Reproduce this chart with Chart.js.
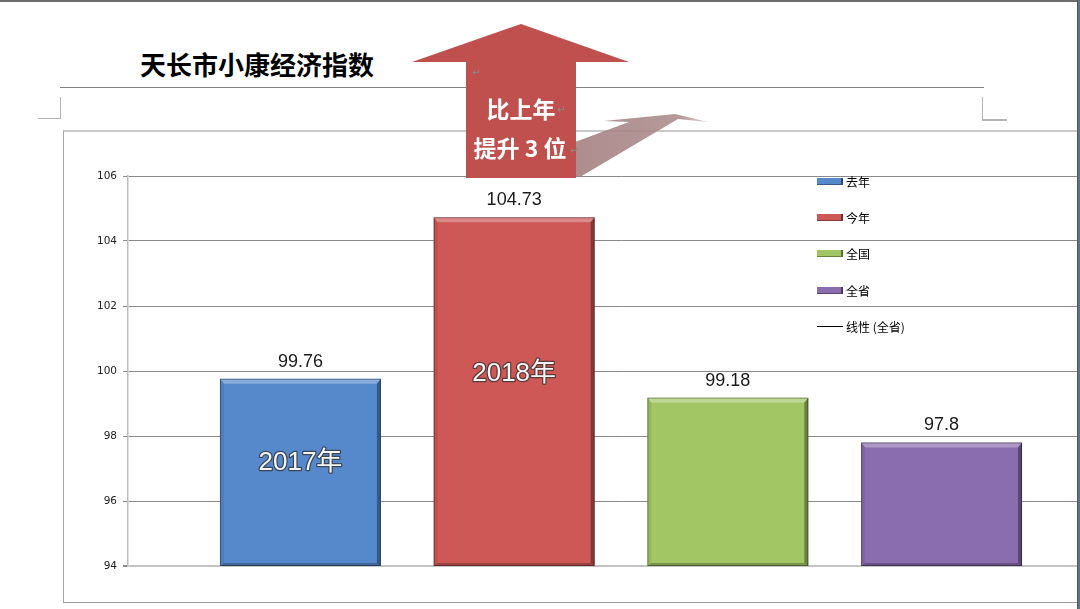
<!DOCTYPE html>
<html>
<head>
<meta charset="utf-8">
<script src="https://cdn.jsdelivr.net/npm/chart.js@4.4.1/dist/chart.umd.min.js"></script>
<style>
    html, body { margin: 0; padding: 0; }
    body { width: 1080px; height: 609px; position: relative; overflow: hidden; background: #fff; font-family: "Noto Sans CJK SC", "Liberation Sans", sans-serif; }
    .topline { position: absolute; left: 0; top: 0; width: 1080px; height: 2px; background: #6d6d6d; }
    .rightline { position: absolute; left: 1077px; top: 0; width: 1px; height: 609px; background: #555; }
    .rightstrip { position: absolute; left: 1078px; top: 0; width: 2px; height: 609px; background: #5b7393; }
    .title { position: absolute; left: 140px; top: 46px; font-size: 26px; font-weight: bold; line-height: 36px; color: #000; letter-spacing: 0px; }
    .rule { position: absolute; left: 60px; top: 87px; width: 924px; height: 1px; background: #808080; }
    .corner { position: absolute; border-color: #b4b4b4; border-style: solid; }
    .box { position: absolute; left: 63px; top: 130px; width: 1014px; height: 473px; box-sizing: border-box; border-left: 1px solid #a6a6a6; border-top: 2px solid #c8c8c8; border-bottom: 1px solid #9a9a9a; overflow: hidden; }
    .chartWrap { position: absolute; left: 0; top: 0; width: 1050px; height: 470px; }
    .legend { position: absolute; left: 817px; top: 172px; font-size: 12px; color: #000; }
    .legend-item { position: absolute; left: 0; height: 18px; white-space: nowrap; display: flex; align-items: center; }
    .legend-swatch { width: 26px; height: 7px; margin-right: 3px; box-sizing: border-box; border-right: 2px solid rgba(0,0,0,0.45); border-bottom: 1px solid rgba(0,0,0,0.35); }
    .legend-line { width: 26px; height: 1px; background: #000; margin-right: 3px; }
    svg.deco { position: absolute; left: 0; top: 0; }
</style>
</head>
<body>
<div class="topline"></div>
<div class="rightline"></div>
<div class="rightstrip"></div>
<div class="title">天长市小康经济指数</div>
<div class="rule"></div>
<div class="corner" style="left:38px; top:97px; width:22px; height:21px; border-width:0 1px 1px 0;"></div>
<div class="corner" style="left:982px; top:97px; width:24px; height:22px; border-width:0 0 2px 1px;"></div>

<div class="box">
    <div class="chartWrap"><canvas id="mainChart"></canvas></div>
</div>

<div class="legend" id="legend"></div>

<svg class="deco" width="1080" height="609">
    <defs>
        <linearGradient id="shadowGrad" x1="0" y1="0" x2="1" y2="0">
            <stop offset="0" stop-color="#a58080" stop-opacity="0.9"/>
            <stop offset="0.8" stop-color="#a98787" stop-opacity="0.85"/>
            <stop offset="1" stop-color="#b59c9c" stop-opacity="0.5"/>
        </linearGradient>
    </defs>
    <polygon points="575,142 629,122 604,121 675,114 708,122 678,119 580,177 575,177" fill="url(#shadowGrad)"/>
    <polygon points="521,24 629,62 576,62 576,178 466,178 466,62 412,62" fill="#c0504d"/>
    <text x="521" y="118" text-anchor="middle" fill="#fff" font-size="23" font-weight="bold" font-family="Noto Sans CJK SC">比上年</text>
    <text x="520" y="157" text-anchor="middle" fill="#fff" font-size="23" font-weight="bold" font-family="Noto Sans CJK SC">提升 3 位</text>
    <text x="472" y="76" fill="#8a8a8a" font-size="10" font-family="DejaVu Sans">↵</text>
    <text x="557" y="113" fill="#8a8a8a" font-size="10" font-family="DejaVu Sans">↵</text>
    <text x="570" y="154" fill="#8a8a8a" font-size="10" font-family="DejaVu Sans">↵</text>
</svg>

<script>
"use strict";

// 数据
const categories = ["小康经济指数"];
const seriesNames = ["去年", "今年", "全国", "全省"];
const seriesValues = [99.76, 104.73, 99.18, 97.8];
const innerLabels = ["2017年", "2018年", "", ""];
const trendLabel = "线性 (全省)";
const yMin = 94;
const yMax = 106;
const yStep = 2;

const seriesColors = ["#5589cc", "#cd5856", "#a3c664", "#8a6dae"];

const ctxMainChart = document.getElementById("mainChart");
const legendArea = document.getElementById("legend");

// 3D 斜面效果 + 数值标签
const barDecor = {
    id: "barDecor",
    afterDatasetsDraw(chart) {
        const ctx = chart.ctx;
        const area = chart.chartArea;
        chart.data.datasets.forEach((ds, i) => {
            const meta = chart.getDatasetMeta(i);
            meta.data.forEach((bar, j) => {
                const l = bar.x - bar.width / 2;
                const r = bar.x + bar.width / 2;
                const t = bar.y;
                const b = Math.min(bar.base, area.bottom);
                const e = 4;

                ctx.save();
                // top highlight
                ctx.fillStyle = "rgba(255,255,255,0.3)";
                ctx.beginPath();
                ctx.moveTo(l, t); ctx.lineTo(r, t); ctx.lineTo(r - e, t + e + 1); ctx.lineTo(l + e, t + e + 1); ctx.closePath();
                ctx.fill();
                // left
                ctx.fillStyle = "rgba(0,0,0,0.08)";
                ctx.beginPath();
                ctx.moveTo(l, t); ctx.lineTo(l + e, t + e + 1); ctx.lineTo(l + e, b - 3); ctx.lineTo(l, b); ctx.closePath();
                ctx.fill();
                // right
                ctx.fillStyle = "rgba(0,0,0,0.35)";
                ctx.beginPath();
                ctx.moveTo(r, t); ctx.lineTo(r, b); ctx.lineTo(r - e, b - 3); ctx.lineTo(r - e, t + e + 1); ctx.closePath();
                ctx.fill();
                // bottom
                ctx.fillStyle = "rgba(0,0,0,0.25)";
                ctx.beginPath();
                ctx.moveTo(l, b); ctx.lineTo(r, b); ctx.lineTo(r - e, b - 3); ctx.lineTo(l + e, b - 3); ctx.closePath();
                ctx.fill();
                // outline
                ctx.strokeStyle = "rgba(0,0,0,0.35)";
                ctx.lineWidth = 1;
                ctx.strokeRect(l + 0.5, t + 0.5, bar.width - 1, b - t - 1);

                // value above the bar
                ctx.fillStyle = "#1a1a1a";
                ctx.font = "18px 'Liberation Sans', 'Noto Sans', sans-serif";
                ctx.textAlign = "center";
                ctx.textBaseline = "middle";
                ctx.fillText(String(ds.data[j]), bar.x, t - 17);

                // year label inside the bar
                const txt = innerLabels[i];
                if (txt) {
                    const yy = b - (b - t) * 0.55;
                    ctx.font = "26px 'Liberation Sans', 'Noto Sans CJK SC', sans-serif";
                    ctx.lineJoin = "round";
                    ctx.lineWidth = 2.5;
                    ctx.strokeStyle = "rgba(50,50,50,0.75)";
                    ctx.strokeText(txt, bar.x, yy);
                    ctx.fillStyle = "#f4f4f4";
                    ctx.fillText(txt, bar.x, yy);
                }
                ctx.restore();
            });
        });
    },
};

const mainChart = new Chart(ctxMainChart, {
    type: "bar",
    data: {
        labels: categories,
        datasets: seriesNames.map((name, i) => ({
            label: name,
            data: [seriesValues[i]],
            backgroundColor: seriesColors[i],
            borderWidth: 0,
            categoryPercentage: 0.867,
            barPercentage: 0.753,
        })),
    },
    options: {
        responsive: true,
        maintainAspectRatio: false,
        animation: false,
        layout: {
            padding: { top: 44, bottom: 36, left: 0, right: 0 },
        },
        plugins: {
            legend: { display: false },
            tooltip: { enabled: false },
        },
        scales: {
            x: {
                display: false,
            },
            y: {
                min: yMin,
                max: yMax,
                afterFit: (axis) => {
                    axis.width = 64;
                },
                ticks: {
                    stepSize: yStep,
                    color: "#222",
                    padding: 6,
                    font: { family: "DejaVu Sans", size: 10.5 },
                },
                grid: {
                    color: (c) => (c.tick && c.tick.value === yMin ? "#c4c4c4" : "#8a8a8a"),
                    lineWidth: (c) => (c.tick && c.tick.value === yMin ? 2 : 1),
                    tickLength: 5,
                    tickColor: "#8a8a8a",
                },
                border: {
                    color: "#bebebe",
                    width: 1.5,
                },
            },
        },
    },
    plugins: [barDecor],
});

// 图例
const legendRowsY = [0, 36, 72, 109, 145];
mainChart.data.datasets.forEach((ds, i) => {
    const item = document.createElement("div");
    item.className = "legend-item";
    item.style.top = `${legendRowsY[i]}px`;
    item.innerHTML = `<span class="legend-swatch" style="background:${ds.backgroundColor}"></span><span>${ds.label}</span>`;
    legendArea.appendChild(item);
});
const trendItem = document.createElement("div");
trendItem.className = "legend-item";
trendItem.style.top = `${legendRowsY[4]}px`;
trendItem.innerHTML = `<span class="legend-line"></span><span>${trendLabel}</span>`;
legendArea.appendChild(trendItem);
</script>
</body>
</html>
